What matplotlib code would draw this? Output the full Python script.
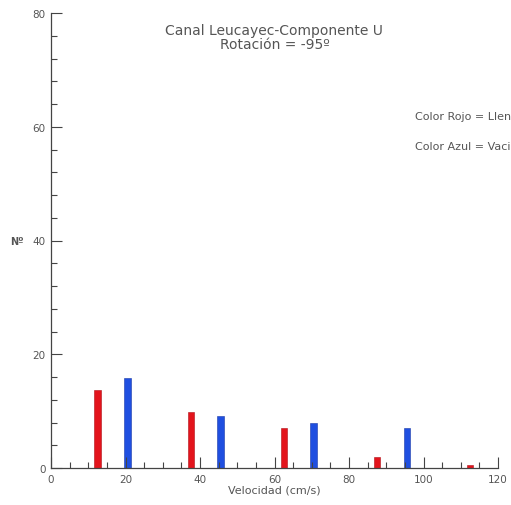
import matplotlib.pyplot as plt
from matplotlib.ticker import MultipleLocator

# velocity class centres (cm/s) and counts
red_x = [12.5, 37.5, 62.5, 87.5, 112.5]
red_n = [13.8, 9.8, 7.0, 2.0, 0.5]
blue_x = [20.5, 45.5, 70.5, 95.5]
blue_n = [15.9, 9.2, 8.0, 7.0]

title_lines = ["Canal Leucayec-Componente U", "Rotación = -95º"]
legend_lines = ["Color Rojo = Llenante", "Color Azul = Vaciante"]
text_color = "#555555"

fig = plt.figure(figsize=(5.11, 5.06), dpi=100)
ax = fig.add_axes([51 / 511, 37 / 506, 447 / 511, 455 / 506])

ax.bar(red_x, red_n, width=1.7, color="#e3141c", edgecolor="#b01018", linewidth=0.4)
ax.bar(blue_x, blue_n, width=1.7, color="#1f4fe0", edgecolor="#1a3aa8", linewidth=0.4)

ax.set_xlim(0, 120)
ax.set_ylim(0, 80)
ax.xaxis.set_major_locator(MultipleLocator(20))
ax.xaxis.set_minor_locator(MultipleLocator(5))
ax.yaxis.set_major_locator(MultipleLocator(20))
ax.yaxis.set_minor_locator(MultipleLocator(4))
for side in ["top", "right"]:
    ax.spines[side].set_visible(False)
for side in ["left", "bottom"]:
    ax.spines[side].set_color("#444444")
    ax.spines[side].set_linewidth(0.9)
ax.tick_params(which="both", direction="in", colors="#444444", labelcolor=text_color,
               labelsize=7.5, width=0.8)
ax.tick_params(which="major", length=8, pad=4)
ax.tick_params(which="minor", length=4)

fig.text(0.537, 1 - 31 / 506, title_lines[0], ha="center", va="center", fontsize=10,
         color=text_color)
fig.text(0.537, 1 - 45 / 506, title_lines[1], ha="center", va="center", fontsize=10,
         color=text_color)
fig.text(415 / 511, 1 - 117 / 506, legend_lines[0], ha="left", va="center", fontsize=8,
         color=text_color)
fig.text(415 / 511, 1 - 147 / 506, legend_lines[1], ha="left", va="center", fontsize=8,
         color=text_color)
fig.text(0.537, 1 - 491 / 506, "Velocidad (cm/s)", ha="center", va="center", fontsize=8,
         color=text_color)
fig.text(17 / 511, 1 - 242 / 506, "Nº", ha="center", va="center", fontsize=7,
         fontweight="bold", color=text_color)

fig.savefig("out.png", dpi=100)
